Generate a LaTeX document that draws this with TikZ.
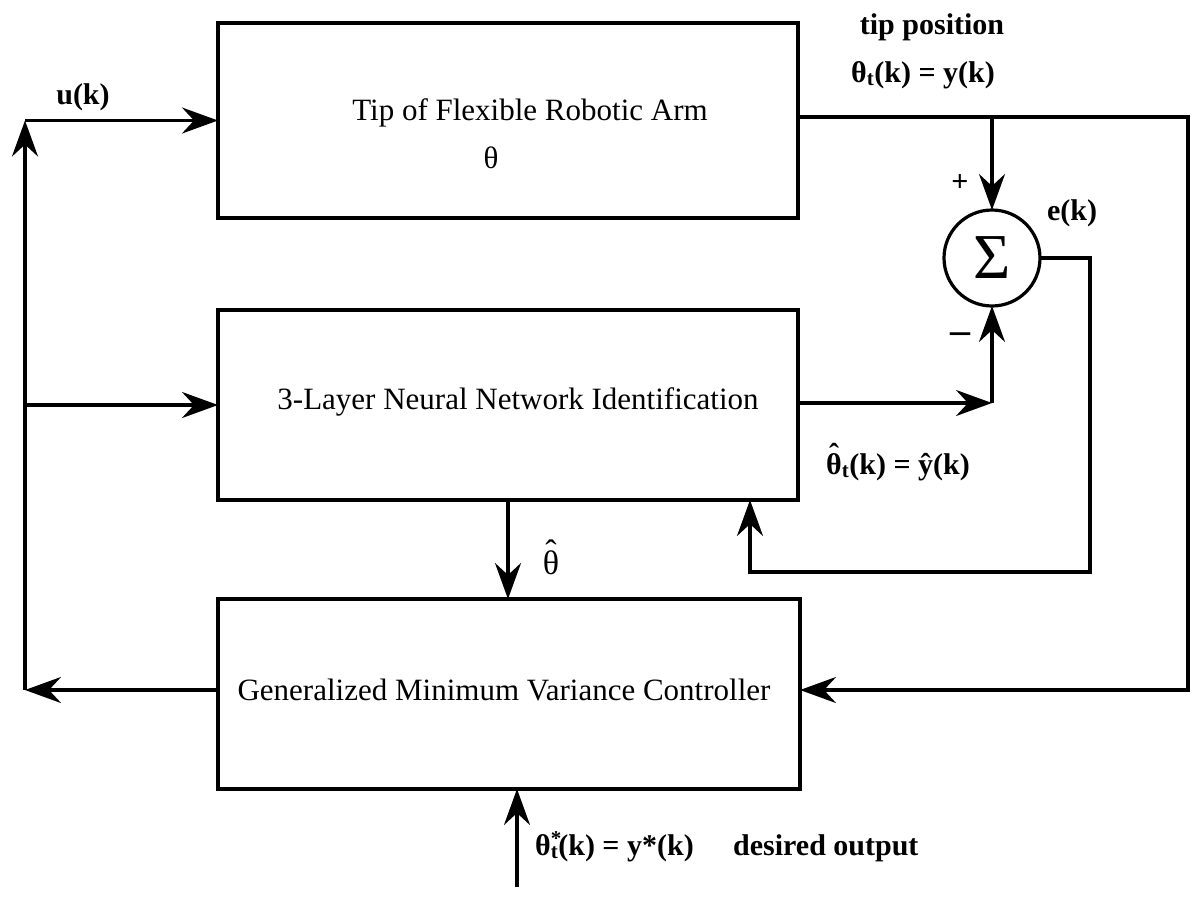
\documentclass[tikz,border=0pt]{standalone}
\usepackage{fontspec}
\setmainfont{Liberation Serif}
\usetikzlibrary{arrows.meta,calc}
\newcommand{\hatover}[1]{\leavevmode\setbox0\hbox{#1}\rlap{\raisebox{\dimexpr\ht0-1ex+0.08em\relax}{\makebox[\wd0]{\char"02C6}}}\box0}
\tikzset{
  box/.style={draw, line width=3.2pt, rectangle, inner sep=0pt, outer sep=0pt},
  conn/.style={line width=3.2pt, line join=miter},
  tip/.style={-{Stealth[length=36pt,width=26pt,inset=12pt]}},
  txt/.style={font=\fontsize{31}{37}\selectfont, inner sep=0pt},
  lab/.style={font=\fontsize{30}{36}\selectfont\bfseries, inner sep=0pt}
}
\begin{document}
\begin{tikzpicture}[x=1pt,y=-1pt]
\path[use as bounding box, fill=white] (0,0) rectangle (1197,898);

% blocks
\node[box, minimum width=580pt, minimum height=195pt] (b1) at (508,120.5) {};
\node[box, minimum width=580pt, minimum height=190pt] (b2) at (508,405) {};
\node[box, minimum width=582pt, minimum height=190pt] (b3) at (509,694) {};
\node[circle, draw, line width=3.2pt, minimum size=96pt, inner sep=0pt, outer sep=0pt,
      font=\fontsize{64}{64}\selectfont] (sum) at (992,258) {Σ};

% block texts
\node[txt] (t1) at (530,113) {Tip of Flexible Robotic Arm};
\node[txt] (t1b) at (491,158) {θ};
\node[txt] (t2) at (518,402) {3-Layer Neural Network Identification};
\node[txt] (t3) at (504,690) {Generalized Minimum Variance Controller};

% labels
\node[lab] (uk) at (83,97) {u(k)};
\node[lab] (tipl) at (932,27) {tip position};
\node[lab] (yk) at (923,75) {θ\textsubscript{t}(k) = y(k)};
\node[lab] (plus) at (960,183) {+};
\node[lab] (ek) at (1072,213) {e(k)};
\node[lab, font=\fontsize{40}{40}\selectfont\bfseries] (minus) at (960,338) {–};
\node[lab] (yhat) at (898,462) {\hatover{θ}\textsubscript{t}(k) = ŷ(k)};
\node[txt, font=\fontsize{34}{40}\selectfont] (thhat) at (551,557) {\hatover{θ}};
\node[lab, anchor=base west] (ystar) at (535,855) {θ\rlap{\textsuperscript{*}}\textsubscript{t}(k) = y*(k)};
\node[lab, anchor=base west] (desired) at (733,855) {desired output};

% coordinates
\coordinate (cl) at (25,120.5);
\coordinate (cm) at (25,405);
\coordinate (cb) at (25,690);
\coordinate (o1) at (1188,117);
\coordinate (o2) at (1188,690);
\coordinate (sj) at (992,117);
\coordinate (c2) at (992,403);
\coordinate (e1) at (1090,258);
\coordinate (e2) at (1090,572);
\coordinate (e3) at (750,572);
\coordinate (in) at (517,887);

% connectors
\draw[conn,tip] (b3.west |- cb) -- (cb);
\draw[conn,tip] (cb) -- (cl);
\draw[conn,tip] (cl) -- (b1.west);
\draw[conn,tip] (cm) -- (b2.west);
\draw[conn,tip] (b1.east |- o1) -- (o1) -- (o2) -- (b3.east |- o2);
\draw[conn,tip] (sj) -- (sum.north);
\draw[conn,tip] (b2.east |- c2) -- (c2);
\draw[conn,tip] (c2) -- (sum.south);
\draw[conn,tip] (sum.east) -- (e1) -- (e2) -- (e3) -- (e3 |- b2.south);
\draw[conn,tip] (b2.south) -- (b2.south |- b3.north);
\draw[conn,tip] (in) -- (in |- b3.south);
\end{tikzpicture}
\end{document}
